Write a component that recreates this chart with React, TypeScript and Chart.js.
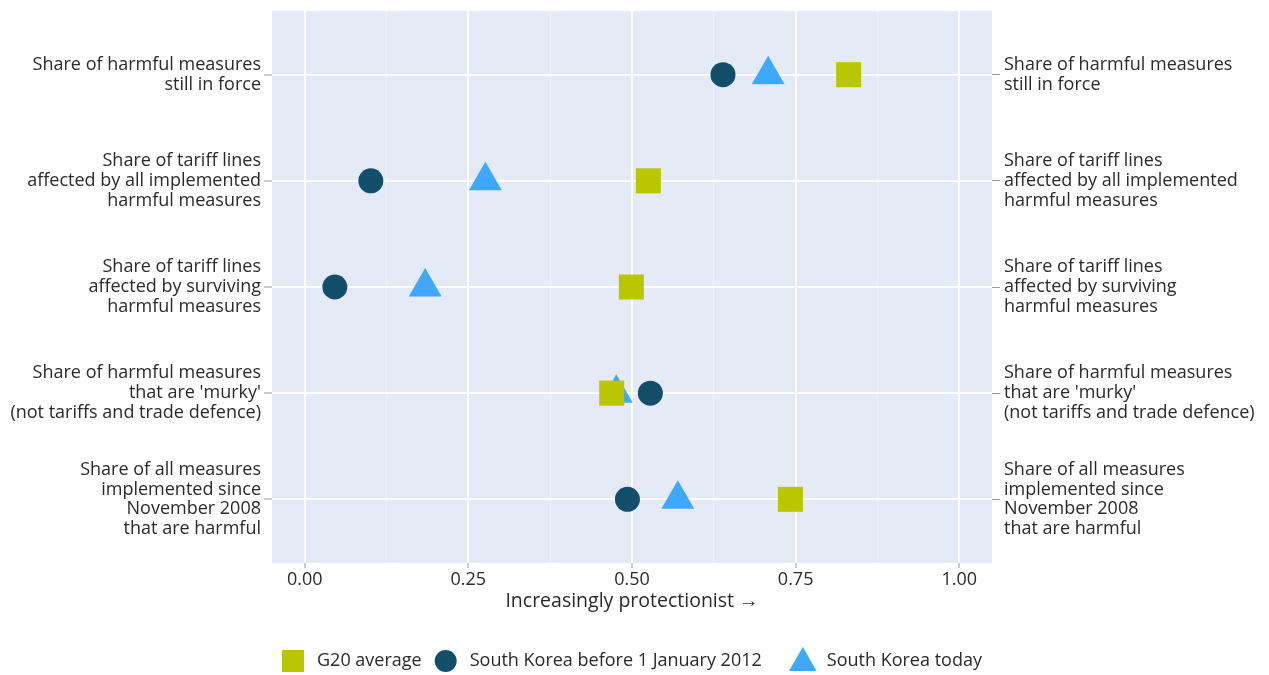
import React, { useEffect, useRef } from "react";
import { Chart, registerables } from "chart.js";

Chart.register(...registerables);

const categories: string[][] = [
  ["Share of harmful measures", "still in force"],
  ["Share of tariff lines", "affected by all implemented", "harmful measures"],
  ["Share of tariff lines", "affected by surviving", "harmful measures"],
  ["Share of harmful measures", "that are 'murky'", "(not tariffs and trade defence)"],
  ["Share of all measures", "implemented since", "November 2008", "that are harmful"],
];

const g20Average = [0.831, 0.525, 0.499, 0.469, 0.742];
const koreaBefore2012 = [0.639, 0.101, 0.046, 0.528, 0.493];
const koreaToday = [0.708, 0.276, 0.184, 0.476, 0.570];

const seriesNames = ["G20 average", "South Korea before 1 January 2012", "South Korea today"];
const xTickValues = [0, 0.25, 0.5, 0.75, 1.0];
const xMinorValues = [0.125, 0.375, 0.625, 0.875];

const COLORS = ["#bac600", "#134f6b", "#3fa8fa"];
const FONT = "'Open Sans', 'Noto Sans', sans-serif";
const TEXT = "#2a2a2a";
const BG = "#e5ebf6";
const FS = 18;
const SHIFT = 8;

const toPoints = (vals: number[]) => vals.map((v, i) => ({ x: v, y: i + 1 }));

export default function App() {
  const ref = useRef<HTMLCanvasElement | null>(null);

  useEffect(() => {
    if (!ref.current) return;

    const bgPlugin = {
      id: "bg",
      beforeDraw(chart: any) {
        const { ctx, chartArea } = chart;
        ctx.save();
        ctx.fillStyle = BG;
        ctx.fillRect(chartArea.left, chartArea.top, chartArea.right - chartArea.left, chartArea.bottom - chartArea.top);
        ctx.restore();
      },
    };

    const legendPlugin = {
      id: "customLegend",
      afterDraw(chart: any) {
        const { ctx } = chart;
        ctx.save();
        ctx.font = `${FS}px ${FONT}`;
        ctx.textBaseline = "middle";
        ctx.textAlign = "left";
        const cy = 661 + SHIFT;
        let x = 282;
        ctx.fillStyle = COLORS[0];
        ctx.fillRect(x, cy - 11, 22, 22);
        x += 22 + 13;
        ctx.fillStyle = TEXT;
        ctx.fillText(seriesNames[0], x, cy);
        x += ctx.measureText(seriesNames[0]).width + 13;
        ctx.fillStyle = COLORS[1];
        ctx.beginPath();
        ctx.arc(x + 11, cy, 11, 0, Math.PI * 2);
        ctx.fill();
        x += 22 + 13;
        ctx.fillStyle = TEXT;
        ctx.fillText(seriesNames[1], x, cy);
        x += ctx.measureText(seriesNames[1]).width + 27;
        const r = 16;
        const tcx = x + 14;
        const tcy = cy + 2;
        ctx.fillStyle = COLORS[2];
        ctx.beginPath();
        ctx.moveTo(tcx, tcy - r);
        ctx.lineTo(tcx + (r * Math.sqrt(3)) / 2, tcy + r / 2);
        ctx.lineTo(tcx - (r * Math.sqrt(3)) / 2, tcy + r / 2);
        ctx.closePath();
        ctx.fill();
        x += 28 + 10;
        ctx.fillStyle = TEXT;
        ctx.fillText(seriesNames[2], x, cy);
        ctx.restore();
      },
    };

    const yTicks = () => [1, 2, 3, 4, 5].map((v) => ({ value: v }));
    const allX = [...xTickValues, ...xMinorValues].sort((a, b) => a - b);

    const chart = new Chart(ref.current, {
      type: "scatter",
      data: {
        datasets: [
          {
            label: seriesNames[0],
            data: toPoints(g20Average),
            pointStyle: "rect",
            pointRadius: 17.7,
            pointHoverRadius: 17.7,
            backgroundColor: COLORS[0],
            borderWidth: 0,
          },
          {
            label: seriesNames[1],
            data: toPoints(koreaBefore2012),
            pointStyle: "circle",
            pointRadius: 12.5,
            pointHoverRadius: 12.5,
            backgroundColor: COLORS[1],
            borderWidth: 0,
          },
          {
            label: seriesNames[2],
            data: toPoints(koreaToday),
            pointStyle: "triangle",
            pointRadius: 19,
            pointHoverRadius: 19,
            backgroundColor: COLORS[2],
            borderWidth: 0,
          },
        ],
      },
      options: {
        animation: false,
        responsive: false,
        maintainAspectRatio: false,
        layout: { padding: { top: 2, bottom: 62, left: 0, right: 0 } },
        plugins: {
          legend: { display: false },
          tooltip: { enabled: false },
        },
        scales: {
          x: {
            type: "linear",
            min: -0.05,
            max: 1.05,
            afterBuildTicks: (scale: any) => {
              scale.ticks = allX.map((v) => ({ value: v }));
            },
            afterFit: (scale: any) => {
              scale.height = 50;
              scale.paddingLeft = 0;
              scale.paddingRight = 0;
            },
            ticks: {
              autoSkip: false,
              maxRotation: 0,
              padding: 1,
              color: TEXT,
              font: { family: FONT, size: FS },
              callback: (v: any) => (xTickValues.includes(Number(v)) ? Number(v).toFixed(2) : ""),
            },
            grid: {
              color: (c: any) => (xTickValues.includes(c.tick?.value) ? "#ffffff" : "#edf1f9"),
              lineWidth: (c: any) => (xTickValues.includes(c.tick?.value) ? 2 : 1),
              tickColor: (c: any) => (xTickValues.includes(c.tick?.value) ? "#999999" : "rgba(0,0,0,0)"),
              tickLength: 5,
              tickWidth: 1,
            },
            border: { display: false },
            title: {
              display: true,
              text: "Increasingly protectionist →",
              color: TEXT,
              font: { family: FONT, size: 19.5 },
              padding: { top: 0, bottom: 0 },
            },
          },
          y: {
            type: "linear",
            position: "left",
            reverse: true,
            min: 0.4,
            max: 5.6,
            afterBuildTicks: (scale: any) => {
              scale.ticks = yTicks();
            },
            afterFit: (scale: any) => {
              scale.width = 272;
              scale.paddingTop = 0;
              scale.paddingBottom = 0;
            },
            ticks: {
              autoSkip: false,
              padding: 3,
              color: TEXT,
              font: { family: FONT, size: FS, lineHeight: 1.1 },
              callback: (v: any) => categories[Number(v) - 1] || "",
            },
            grid: {
              color: "#ffffff",
              lineWidth: 2,
              tickColor: "#999999",
              tickLength: 8,
              tickWidth: 1,
            },
            border: { display: false },
          },
          y2: {
            type: "linear",
            position: "right",
            reverse: true,
            min: 0.4,
            max: 5.6,
            afterBuildTicks: (scale: any) => {
              scale.ticks = yTicks();
            },
            afterFit: (scale: any) => {
              scale.width = 277;
              scale.paddingTop = 0;
              scale.paddingBottom = 0;
            },
            ticks: {
              autoSkip: false,
              padding: 4,
              color: TEXT,
              font: { family: FONT, size: FS, lineHeight: 1.1 },
              callback: (v: any) => categories[Number(v) - 1] || "",
            },
            grid: {
              drawOnChartArea: false,
              color: "#ffffff",
              tickColor: "#999999",
              tickLength: 8,
              tickWidth: 1,
            },
            border: { display: false },
          },
        },
      } as any,
      plugins: [bgPlugin, legendPlugin],
    });

    return () => chart.destroy();
  }, []);

  return (
    <div style={{ position: "fixed", left: 0, top: 0, width: 1269, height: 675, overflow: "hidden", background: "#ffffff" }}>
      <canvas
        ref={ref}
        width={1269}
        height={675 + SHIFT}
        style={{ display: "block", position: "absolute", left: 0, top: -SHIFT, width: 1269, height: 675 + SHIFT }}
      />
    </div>
  );
}
